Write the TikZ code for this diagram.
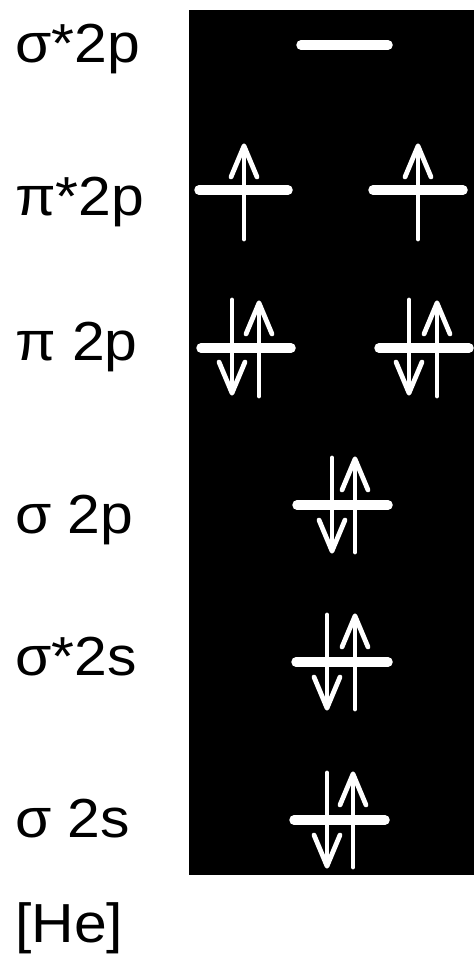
\documentclass[tikz,border=0pt]{standalone}
\usepackage{fontspec}
\setmainfont{Liberation Sans}
\newcommand\wtxt[1]{\scalebox{1.07}[1]{#1}}
\begin{document}
\begin{tikzpicture}[x=1pt,y=-1pt,
  lbl/.style={anchor=base west,inner sep=0pt,font=\fontsize{55}{60}\selectfont},
  level/.style={draw=white,line width=9.5pt,line cap=round},
  spin/.style={draw=white,line width=4.8pt,line cap=round,line join=round},
  upspin/.pic={\draw[spin] (0,93) -- (0,0); \draw[spin] (-13,31) -- (0,0) -- (13,31);},
  downspin/.pic={\draw[spin] (0,0) -- (0,93); \draw[spin] (-13,62) -- (0,93) -- (13,62);}
]
\useasboundingbox (0,0) rectangle (474,954);
\fill[black] (189,10) rectangle (474,875);
% labels
\node[lbl] (l1) at (15,62) {\wtxt{σ*2p}};
\node[lbl] (l2) at (15,215) {\wtxt{π*2p}};
\node[lbl] (l3) at (15,360) {\wtxt{π 2p}};
\node[lbl] (l4) at (15,533) {\wtxt{σ 2p}};
\node[lbl] (l5) at (15,675) {\wtxt{σ*2s}};
\node[lbl] (l6) at (15,837) {\wtxt{σ 2s}};
\node[lbl] (l7) at (15,942) {\wtxt{[He]}};
% levels
\draw[level] (301,45) -- (388,45);
\draw[level] (199,190) -- (288,190);
\draw[level] (373,190) -- (463,190);
\draw[level] (201,348) -- (291,348);
\draw[level] (379,348) -- (469,348);
\draw[level] (297,505) -- (388,505);
\draw[level] (296,662) -- (388,662);
\draw[level] (294,820) -- (385,820);
% electrons
\pic at (244,146) {upspin};
\pic at (418,146) {upspin};
\pic at (232,300) {downspin};
\pic at (259,303) {upspin};
\pic at (409,300) {downspin};
\pic at (437,303) {upspin};
\pic at (332,458) {downspin};
\pic at (355,459) {upspin};
\pic at (327,615) {downspin};
\pic at (355,616) {upspin};
\pic at (327,773) {downspin};
\pic at (353,774) {upspin};
\end{tikzpicture}
\end{document}
